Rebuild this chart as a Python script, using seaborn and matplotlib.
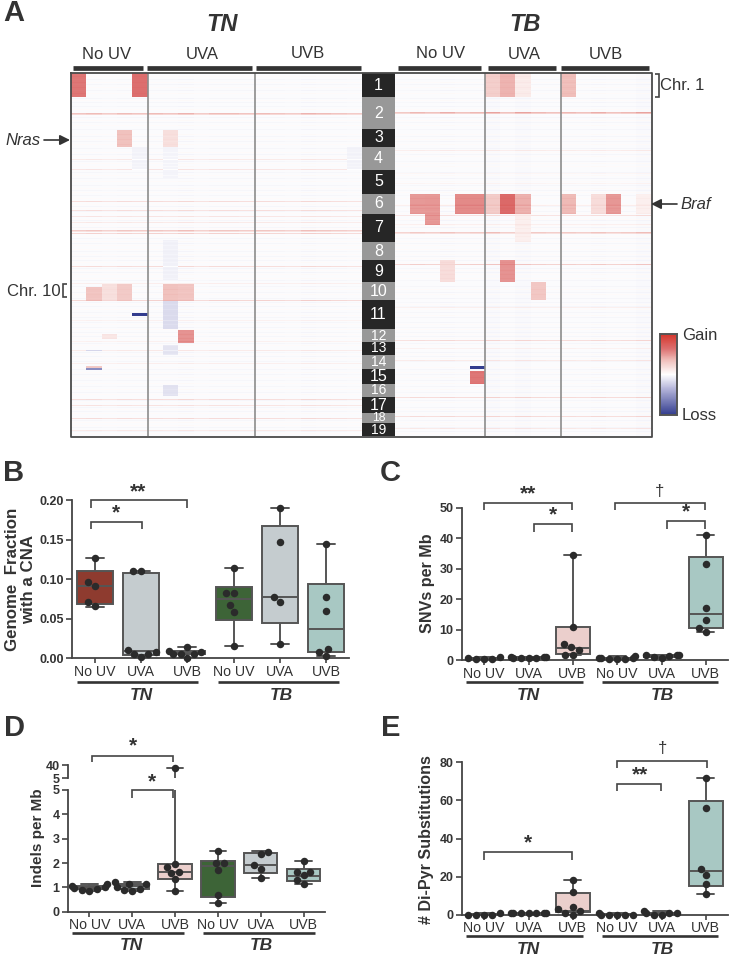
import numpy as np
import pandas as pd
import matplotlib
matplotlib.use("Agg")
import matplotlib.pyplot as plt
import seaborn as sns
from matplotlib.colors import LinearSegmentedColormap, ListedColormap

W, H = 731, 958
DARK = "#333333"
EDGE = "#555555"

# ---- panel A data: one row per genome bin
chr_rows = [24, 32, 18, 23, 24, 20, 28, 18, 22, 18, 29, 13, 13, 14, 15, 13, 16, 10, 13]
chr_names = [str(i) for i in range(1, 20)]

gain_rows_tn = [(40, .36), (41, .24), (86, .13), (96, .15), (128, .2), (137, .19), (143, .15), (149, .13), (157, .32),
                (158, .18), (160, .25), (193, .2), (210, .1), (227, .25), (277, .13), (290, .1), (326, .2), (332, .16),
                (345, .2), (357, .13), (247, .08), (268, .08)]
gain_rows_tb = [(39, .38), (40, .26), (77, .11), (100, .05), (142, .17), (159, .3), (160, .18), (191, .27), (267, .2),
                (287, .13), (324, .21), (343, .2), (355, .13), (234, .09), (275, .08), (132, .1), (151, .09), (110, .06)]
faint_gain = [3, 9, 14, 20, 27, 36, 47, 52, 61, 66, 71, 79, 83, 90, 93, 102, 108, 115, 119, 125, 131, 135, 140,
              146, 152, 155, 163, 168, 172, 176, 181, 185, 189, 197, 201, 205, 216, 221, 231, 236, 242, 251,
              256, 261, 265, 272, 281, 285, 294, 299, 304, 310, 316, 321, 329, 336, 340, 349, 352, 360]
faint_loss = [6, 11, 17, 25, 29, 33, 44, 49, 56, 63, 68, 75, 81, 88, 99, 105, 112, 117, 122, 133, 138, 147, 154,
              165, 170, 178, 183, 187, 195, 199, 207, 213, 219, 225, 229, 233, 239, 244, 249, 254, 259, 263,
              270, 279, 283, 288, 296, 301, 307, 313, 319, 327, 334, 338, 347, 354, 358]
column_weight_tn = [.9, 1.0, .8, 1.0, .9, 1.0, .9, 1.1, .8, 1.0, 1.0, .9, 1.0, .9, .8, 1.1, 1.0, .9, .8]
column_weight_tb = [.8, 1.0, .9, 1.1, .9, 1.0, 1.2, .9, 1.2, 1.0, .9, 1.0, .9, 1.1, .9, 1.0, 1.2]

# (sample column, first row, last row, log ratio)
segments_tn = [(0, 0, 24, .62), (4, 0, 24, .65), (3, 57, 74, .35), (6, 57, 74, .18), (1, 214, 228, .33),
               (2, 211, 228, .18), (3, 211, 228, .30), (6, 211, 228, .35), (7, 211, 228, .33), (4, 240, 243, -1.0),
               (6, 228, 256, -.16), (7, 257, 270, .52), (2, 261, 266, .14), (1, 293, 295, .30), (1, 295, 297, -.55),
               (1, 277, 278, -.25), (6, 272, 282, -.12), (6, 312, 323, -.13), (4, 74, 97, -.05), (6, 74, 105, -.04),
               (18, 74, 97, -.05), (6, 167, 207, -.06)]
segments_tb = [(6, 0, 24, .28), (7, 0, 24, .40), (8, 0, 24, .12), (11, 0, 24, .36), (1, 121, 141, .50),
               (2, 121, 141, .50), (4, 121, 141, .55), (5, 121, 141, .55), (6, 121, 141, .30), (7, 121, 141, .68),
               (8, 121, 141, .42), (11, 121, 141, .38), (13, 121, 141, .20), (14, 121, 141, .50), (16, 121, 141, .10),
               (2, 141, 152, .50), (8, 141, 169, .10), (3, 187, 209, .20), (7, 187, 209, .52), (9, 209, 227, .32),
               (5, 293, 296, -1.0), (5, 298, 311, .62)]

# ---- box summaries [min, q1, median, q3, max] and the dots, panels B-E
groups = ["TN No UV", "TN UVA", "TN UVB", "TB No UV", "TB UVA", "TB UVB"]
group_labels = ["No UV", "UVA", "UVB", "No UV", "UVA", "UVB"]

b_boxes = [[.065, .069, .092, .111, .127], [.0015, .004, .009, .108, .110], [.0002, .005, .0065, .009, .014],
           [.015, .049, .0747, .090, .114], [.018, .045, .078, .168, .190], [.003, .0076, .0367, .094, .1447]]
b_dots = [[.127, .097, .092, .071, .066], [.110, .110, .0105, .0085, .005, .0055, .0015],
          [.0095, .006, .0002, .0055, .014, .0055, .0085], [.114, .083, .083, .0675, .059, .015],
          [.190, .147, .078, .071, .018], [.1447, .078, .060, .012, .008, .003]]

c_boxes = [[.4, .5, .7, .9, 1.1], [.7, .8, 1.0, 1.1, 1.2], [1.6, 2.0, 4.1, 10.9, 34.6],
           [.2, .4, .6, .9, 1.3], [.9, 1.1, 1.5, 1.7, 1.8], [9.4, 10.5, 15.1, 34.0, 41.2]]
c_dots = [[.5, 1.0, .5, .8, .5], [.9, 1.2, 1.0, .8, 1.0, .9, .8], [34.6, 10.9, 5.3, 4.2, 3.4, 1.7, 1.7],
          [.3, 1.3, .6, .8, .9, .3, .5], [1.2, 1.8, 1.5, 1.6, 1.7, .9], [41.2, 31.7, 17.0, 13.2, 10.6, 9.4]]

d_boxes = [[.87, .92, 1.0, 1.05, 1.13], [.87, .92, 1.05, 1.12, 1.22], [.85, 1.33, 1.62, 1.95, 32.0],
           [.35, .62, 1.86, 2.10, 2.50], [1.40, 1.58, 1.90, 2.40, 2.48], [1.14, 1.27, 1.48, 1.74, 2.10]]
d_dots = [[1.13, .87, 1.05, .95, .88, .98, 1.0], [1.22, .90, 1.12, 1.0, .95, 1.15, .87],
          [1.98, 1.85, 1.62, 1.60, 1.33, .85], [2.5, 2.0, 2.0, 1.7, .7, .35],
          [2.47, 2.38, 1.9, 1.75, 1.4], [2.1, 1.65, 1.65, 1.5, 1.3, 1.15]]
d_high_dots = [[], [], [32.0], [], [], []]

e_boxes = [[0, 0, 0, .5, 1], [1, 1, 1, 1, 1], [0, 1.2, 2.0, 11.6, 18], [0, 0, 0, .2, 1], [0, .5, 1, 1, 2],
           [11, 15, 22.8, 59.7, 72]]
e_dots = [[0, 1, 0, 0, 0], [1, 1, 1, 1, 1, 1, 1], [18, 12, 4, 3, 2, 1, 0], [0, 1, 0, 0, 0, 0],
          [0, 2, 1, 1, 1, 0], [72, 56, 24, 21, 16, 11]]

colors_b = ["#8e3b2f", "#c5cccf", "#c5cccf", "#3d6437", "#c5cccf", "#a8c8c3"]
colors_rest = ["#8e3b2f", "#c5cccf", "#ebcfcc", "#3d6437", "#c5cccf", "#a8c8c3"]

sns.set_theme(style="white")
plt.rcParams["font.family"] = ["Liberation Sans", "DejaVu Sans"]
plt.rcParams["text.color"] = DARK


def px_axes(x0, y0, x1, y1, **kw):
    return fig.add_axes([x0 / W, 1 - y1 / H, (x1 - x0) / W, (y1 - y0) / H], **kw)


def build_matrix(n_cols, gain_rows, weights, segments):
    n_rows = sum(chr_rows)
    m = np.full((n_rows, n_cols), -.02)
    m[faint_gain, :] = .03
    m[faint_loss, :] = -.045
    for row, val in gain_rows:
        m[row, :] = val
    m = m * np.array(weights)
    for col, r0, r1, val in segments:
        m[r0:r1, col] = val + np.minimum(m[r0:r1, col], .12) * .4
    return m


fig = plt.figure(figsize=(W / 100, H / 100), dpi=100)

cmap = LinearSegmentedColormap.from_list(
    "cna", [(0, "#323c8e"), (.325, "#b5b5da"), (.5, "#ffffff"), (.675, "#f0c0bc"), (.82, "#dc6f6f"), (1, "#d5352a")])

# panel A heatmaps
ax_tn = px_axes(71, 73, 362, 436)
ax_tb = px_axes(395, 73, 651, 436)
cax = px_axes(660, 334, 677, 415)
sns.heatmap(build_matrix(19, gain_rows_tn, column_weight_tn, segments_tn), vmin=-1, vmax=1, cmap=cmap,
            ax=ax_tn, cbar_ax=cax, xticklabels=False, yticklabels=False)
sns.heatmap(build_matrix(17, gain_rows_tb, column_weight_tb, segments_tb), vmin=-1, vmax=1, cmap=cmap,
            ax=ax_tb, cbar=False, xticklabels=False, yticklabels=False)
cax.tick_params(length=0, labelright=False)
for s in cax.spines.values():
    s.set_visible(True)
    s.set_edgecolor(EDGE)
    s.set_linewidth(1.2)
for ax, cols in [(ax_tn, [5, 12]), (ax_tb, [6, 11])]:
    for c in cols:
        ax.axvline(c, color="#8c8c8c", lw=1.2)

# chromosome strip between the two heatmaps
ax_chr = px_axes(362, 73, 395, 436)
strip = np.repeat([i % 2 for i in range(len(chr_rows))], chr_rows).reshape(-1, 1)
sns.heatmap(strip, cmap=ListedColormap(["#262626", "#989898"]), cbar=False, ax=ax_chr,
            xticklabels=False, yticklabels=False)
ends = np.cumsum(chr_rows)
for name, end, n in zip(chr_names, ends, chr_rows):
    size = 11.5 if n > 14 else (8.8 if n == 10 else 10)
    ax_chr.text(.5, end - n / 2, name, color="white", fontsize=size, ha="center", va="center")

# overlay in picture pixels for all the furniture
ov = fig.add_axes([0, 0, 1, 1], zorder=20)
ov.set_xlim(0, W)
ov.set_ylim(H, 0)
ov.axis("off")
ov.patch.set_alpha(0)


def line(xs, ys, lw=1.2, color="#444444"):
    ov.plot(xs, ys, color=color, lw=lw, solid_capstyle="butt", solid_joinstyle="miter")


def bracket(x0, x1, y, y_low):
    line([x0, x0, x1, x1], [y_low, y, y, y_low])


def txt(x, y, s, size=10, **kw):
    kw.setdefault("ha", "center")
    kw.setdefault("va", "center")
    ov.text(x, y, s, fontsize=size, **kw)


ov.plot([70.5, 651.5, 651.5, 70.5, 70.5], [72.5, 72.5, 436.5, 436.5, 72.5], color="#4a4a4a", lw=1.3)
for letter, x, y in [("A", 3, 13), ("B", 3, 473), ("C", 380, 473), ("D", 4, 728), ("E", 381, 728)]:
    txt(x, y, letter, size=21, weight="bold", ha="left")
txt(222, 24, "TN", size=17, weight="bold", style="italic")
txt(525, 24, "TB", size=17, weight="bold", style="italic")
for x, y, s in [(107, 54, "No UV"), (202, 54, "UVA"), (308, 53, "UVB"), (441, 53, "No UV"), (524, 54, "UVA"), (606, 54, "UVB")]:
    txt(x, y, s, size=12)
for x0, x1 in [(73, 143), (147, 252), (256, 361), (398, 481), (488, 556), (561, 649)]:
    line([x0, x1], [67.5, 67.5], lw=3.4, color=DARK)

txt(5, 140, "Nras", size=12, style="italic", ha="left")
ov.annotate("", xy=(70, 140), xytext=(44, 140), arrowprops=dict(arrowstyle="-|>", color=DARK, lw=1.2, mutation_scale=15, shrinkA=0, shrinkB=0))
txt(680, 204, "Braf", size=12, style="italic", ha="left")
ov.annotate("", xy=(651, 204), xytext=(677, 204), arrowprops=dict(arrowstyle="-|>", color=DARK, lw=1.2, mutation_scale=15, shrinkA=0, shrinkB=0))
txt(660, 85, "Chr. 1", size=12, ha="left")
line([655, 659, 659, 655], [74, 74, 97, 97])
txt(7, 291, "Chr. 10", size=12, ha="left")
line([67, 63, 63, 67], [284, 284, 297, 297])
txt(682, 336, "Gain", size=12, ha="left")
txt(682, 416, "Loss", size=12, ha="left")


def long_table(rows):
    names = [g for g, r in zip(groups, rows) for _ in r]
    vals = [v for r in rows for v in r]
    return pd.DataFrame({"group": names, "value": vals})


def draw_box(ax, boxes, dots, palette, ylim):
    sns.boxplot(data=long_table(boxes), x="group", y="value", hue="group", order=groups, hue_order=groups,
                palette=palette, legend=False, width=.78, whis=np.inf, linewidth=1.4, linecolor=EDGE,
                fliersize=0, saturation=1, ax=ax)
    sns.swarmplot(data=long_table(dots), x="group", y="value", order=groups, color="#2b2b2b", size=5.4,
                  clip_on=False, zorder=5, warn_thresh=1, ax=ax)
    ax.set_xlim(-.5, 5.5)
    ax.set_ylim(*ylim)
    ax.patch.set_alpha(0)
    sns.despine(ax=ax)
    for s in ax.spines.values():
        s.set_color("#444444")
        s.set_linewidth(1.3)
    ax.set_xlabel("")
    ax.set_ylabel("")
    ax.tick_params(axis="y", left=True, length=4, width=1.2, color="#444444", labelsize=9, labelcolor=DARK, pad=2)


def finish_x(ax):
    ax.set_xticks(range(6), group_labels)
    ax.tick_params(axis="x", bottom=True, length=3.5, width=1.2, color="#444444", labelsize=10.2, labelcolor=DARK, pad=1)


def set_label(ax, text, x_px, y_px, box, size=11.6):
    ax.set_ylabel(text, fontsize=size, fontweight="bold", color=DARK, linespacing=1.05)
    ax.yaxis.set_label_coords((x_px - box[0]) / (box[2] - box[0]), (box[3] - y_px) / (box[3] - box[1]))


# panel B
box = (72, 500.3, 349, 658.3)
ax = px_axes(*box)
draw_box(ax, b_boxes, b_dots, colors_b, (0, .20))
ax.set_yticks([0, .05, .10, .15, .20], ["0.00", "0.05", "0.10", "0.15", "0.20"], fontweight="bold")
finish_x(ax)
set_label(ax, "Genome  Fraction\nwith a CNA", 36, 579, box, size=12.2)
bracket(90.7, 186.7, 500.3, 507.7)
bracket(90.7, 141.7, 521.7, 529)
txt(138, 492, "**", size=15, weight="bold")
txt(116, 513, "*", size=15, weight="bold")

# panel C
box = (462, 507.7, 728, 660.3)
ax = px_axes(*box)
draw_box(ax, c_boxes, c_dots, colors_rest, (0, 50))
ax.set_yticks([0, 10, 20, 30, 40, 50], ["0", "10", "20", "30", "40", "50"], fontweight="bold")
finish_x(ax)
set_label(ax, "SNVs per Mb", 435, 583, box)
bracket(484.3, 571.7, 503, 510)
bracket(534, 571.7, 524, 531.7)
bracket(615.3, 705.3, 503, 510)
bracket(666.7, 705.3, 521.3, 528.7)
txt(528, 494, "**", size=15, weight="bold")
txt(553, 515, "*", size=15, weight="bold")
txt(660, 491, "\u2020", size=12)
txt(686, 512, "*", size=15, weight="bold")

# panel D, broken axis
box = (68, 790, 325, 911.7)
ax = px_axes(*box)
draw_box(ax, d_boxes, d_dots, colors_rest, (0, 5))
ax.set_yticks([0, 1, 2, 3, 4, 5], ["0", "1", "2", "3", "4", "5"], fontweight="bold")
finish_x(ax)
set_label(ax, "Indels per Mb", 45, 838, box, size=11)
ax_top = px_axes(68, 765, 325, 778.3)
draw_box(ax_top, d_boxes, d_high_dots, colors_rest, (5, 40))
ax_top.set_yticks([5, 40], ["5", "40"], fontweight="bold")
ax_top.spines["bottom"].set_visible(False)
ax_top.set_xticks([])
bracket(92, 173.3, 755.7, 762.3)
bracket(131.7, 173.3, 790.3, 797.7)
txt(132.7, 746, "*", size=15, weight="bold")
txt(152, 782, "*", size=15, weight="bold")

# panel E
box = (462, 762.3, 728, 914.7)
ax = px_axes(*box)
draw_box(ax, e_boxes, e_dots, colors_rest, (0, 80))
ax.set_yticks([0, 20, 40, 60, 80], ["0", "20", "40", "60", "80"], fontweight="bold")
finish_x(ax)
set_label(ax, "# Di-Pyr Substitutions", 434, 840, box)
bracket(484, 572.3, 852.3, 860)
bracket(617.3, 707.3, 761, 768.3)
bracket(617.3, 661.3, 784, 791)
txt(528, 843, "*", size=15, weight="bold")
txt(662.7, 749, "\u2020", size=12)
txt(640, 775, "**", size=15, weight="bold")

# TN / TB rulers under panels B-E
for y_line, y_txt, x_tn, x_tb, c_tn, c_tb in [
    (681.7, 696, (77, 198), (218, 339), 141, 281),
    (681.7, 695, (466, 583), (602, 718), 528, 662),
    (932.7, 946, (72, 184), (203, 315), 131, 261),
    (935.7, 950, (466, 583), (602, 718), 528, 662),
]:
    line(x_tn, [y_line, y_line], lw=1.9, color=DARK)
    line(x_tb, [y_line, y_line], lw=1.9, color=DARK)
    txt(c_tn, y_txt, "TN", size=12.5, weight="bold", style="italic")
    txt(c_tb, y_txt, "TB", size=12.5, weight="bold", style="italic")

fig.savefig("out.png", dpi=100)
